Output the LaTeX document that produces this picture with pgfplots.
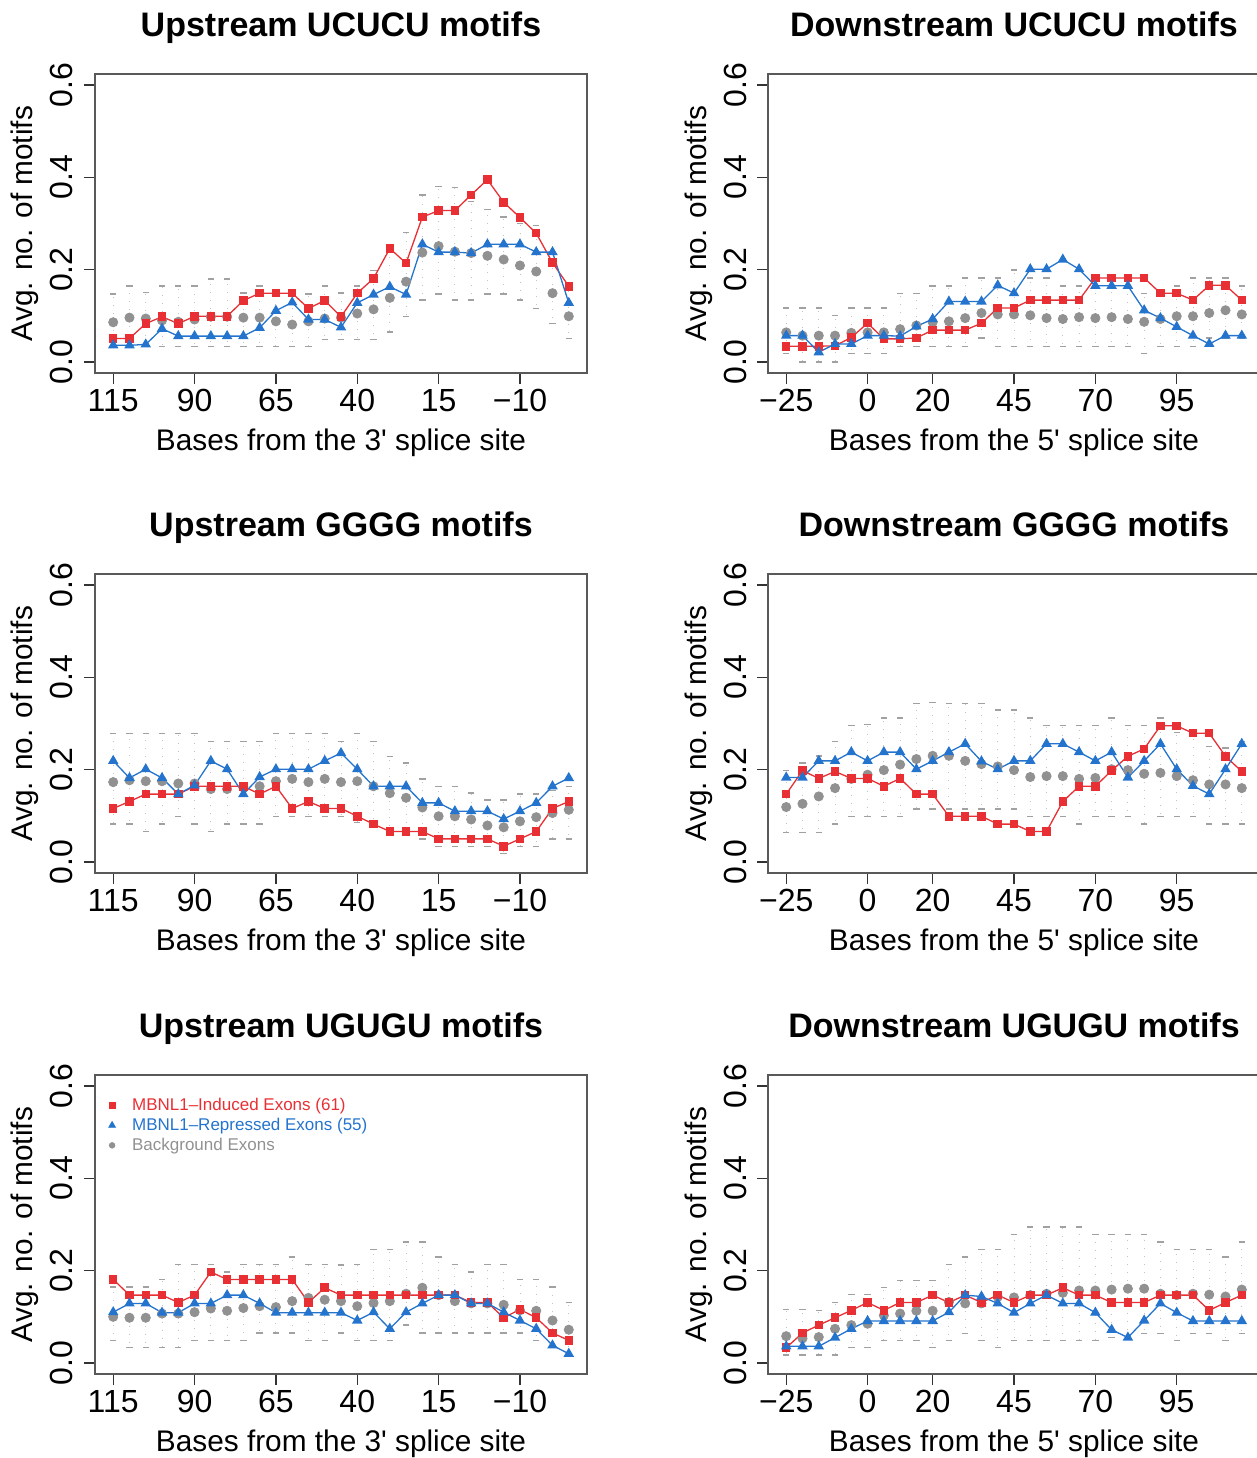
\documentclass[border=0pt]{standalone}
\usepackage{fontspec}
\setmainfont{Liberation Sans}
\usepackage{pgfplots}
\usepackage{pgfplotstable}
\pgfplotsset{compat=1.18}
\definecolor{mred}{RGB}{232,48,52}
\definecolor{mblue}{RGB}{36,116,206}
\definecolor{mgray}{RGB}{145,145,145}

% x ind rep bg lo hi
\pgfplotstableread{
x ind rep bg lo hi
115 0.051 0.036 0.086 0.033 0.147
110 0.051 0.036 0.096 0.033 0.165
105 0.083 0.038 0.094 0.033 0.151
100 0.098 0.072 0.090 0.033 0.165
95 0.083 0.056 0.087 0.033 0.165
90 0.099 0.056 0.092 0.033 0.165
85 0.099 0.056 0.098 0.033 0.180
80 0.099 0.056 0.098 0.033 0.180
75 0.133 0.056 0.096 0.033 0.149
70 0.149 0.074 0.096 0.033 0.165
65 0.149 0.111 0.088 0.033 0.149
60 0.149 0.129 0.081 0.033 0.149
55 0.116 0.092 0.088 0.033 0.147
50 0.133 0.092 0.094 0.049 0.165
45 0.098 0.075 0.096 0.049 0.149
40 0.149 0.128 0.105 0.049 0.165
35 0.181 0.146 0.114 0.049 0.198
30 0.246 0.163 0.139 0.065 0.240
25 0.214 0.146 0.174 0.098 0.280
20 0.314 0.255 0.237 0.134 0.362
15 0.328 0.238 0.251 0.147 0.380
10 0.328 0.238 0.239 0.134 0.378
5 0.362 0.236 0.236 0.134 0.348
0 0.395 0.255 0.230 0.147 0.330
-5 0.346 0.255 0.222 0.147 0.314
-10 0.313 0.255 0.209 0.134 0.300
-15 0.279 0.238 0.196 0.116 0.296
-20 0.215 0.238 0.149 0.083 0.235
-25 0.164 0.128 0.099 0.051 0.165
}\upucucu

\pgfplotstableread{
x ind rep bg lo hi
-25 0.034 0.057 0.064 0.018 0.117
-20 0.034 0.057 0.057 0.000 0.117
-15 0.034 0.021 0.057 0.000 0.117
-10 0.035 0.039 0.057 0.000 0.100
-5 0.053 0.039 0.063 0.018 0.117
0 0.084 0.057 0.064 0.018 0.117
5 0.050 0.057 0.064 0.018 0.117
10 0.050 0.056 0.071 0.034 0.148
15 0.052 0.077 0.079 0.034 0.148
20 0.069 0.093 0.086 0.034 0.165
25 0.069 0.131 0.088 0.034 0.165
30 0.069 0.131 0.095 0.034 0.182
35 0.084 0.131 0.106 0.052 0.182
40 0.117 0.166 0.103 0.034 0.182
45 0.117 0.149 0.103 0.034 0.199
50 0.134 0.201 0.101 0.034 0.182
55 0.134 0.201 0.095 0.034 0.182
60 0.134 0.222 0.093 0.034 0.165
65 0.134 0.201 0.097 0.034 0.165
70 0.182 0.165 0.095 0.034 0.165
75 0.182 0.165 0.097 0.034 0.165
80 0.182 0.165 0.093 0.034 0.165
85 0.182 0.112 0.087 0.018 0.148
90 0.149 0.095 0.093 0.034 0.155
95 0.149 0.076 0.099 0.034 0.165
100 0.134 0.057 0.099 0.034 0.182
105 0.166 0.039 0.106 0.052 0.182
110 0.166 0.057 0.112 0.052 0.182
115 0.134 0.057 0.103 0.052 0.165
}\downucucu

\pgfplotstableread{
x ind rep bg lo hi
115 0.116 0.219 0.173 0.082 0.279
110 0.131 0.182 0.177 0.082 0.279
105 0.147 0.201 0.175 0.066 0.279
100 0.147 0.182 0.175 0.082 0.279
95 0.147 0.147 0.170 0.099 0.279
90 0.164 0.166 0.170 0.082 0.279
85 0.164 0.219 0.158 0.066 0.261
80 0.164 0.201 0.158 0.082 0.261
75 0.164 0.147 0.162 0.082 0.261
70 0.147 0.184 0.164 0.082 0.261
65 0.164 0.201 0.175 0.099 0.279
60 0.116 0.201 0.180 0.099 0.279
55 0.131 0.201 0.173 0.099 0.279
50 0.116 0.219 0.180 0.099 0.279
45 0.116 0.236 0.173 0.099 0.261
40 0.099 0.201 0.175 0.085 0.279
35 0.082 0.164 0.164 0.075 0.261
30 0.066 0.164 0.149 0.070 0.229
25 0.066 0.164 0.139 0.060 0.214
20 0.066 0.128 0.118 0.050 0.180
15 0.050 0.128 0.099 0.034 0.164
10 0.050 0.110 0.099 0.034 0.164
5 0.050 0.110 0.092 0.034 0.149
0 0.050 0.110 0.079 0.034 0.134
-5 0.034 0.093 0.075 0.018 0.134
-10 0.050 0.110 0.088 0.034 0.147
-15 0.066 0.128 0.097 0.034 0.147
-20 0.116 0.164 0.106 0.050 0.155
-25 0.131 0.182 0.113 0.050 0.164
}\upgggg

\pgfplotstableread{
x ind rep bg lo hi
-25 0.147 0.183 0.119 0.064 0.198
-20 0.198 0.183 0.126 0.064 0.214
-15 0.181 0.219 0.142 0.064 0.230
-10 0.196 0.219 0.160 0.082 0.261
-5 0.181 0.238 0.180 0.099 0.296
0 0.181 0.219 0.189 0.099 0.298
5 0.164 0.238 0.199 0.099 0.312
10 0.181 0.238 0.211 0.099 0.312
15 0.147 0.201 0.223 0.115 0.344
20 0.147 0.219 0.230 0.115 0.346
25 0.099 0.238 0.230 0.115 0.344
30 0.099 0.256 0.219 0.115 0.343
35 0.099 0.218 0.212 0.115 0.343
40 0.082 0.201 0.207 0.115 0.329
45 0.082 0.219 0.199 0.115 0.329
50 0.066 0.219 0.184 0.099 0.312
55 0.066 0.256 0.186 0.099 0.296
60 0.131 0.256 0.186 0.099 0.296
65 0.164 0.238 0.180 0.082 0.296
70 0.164 0.219 0.182 0.099 0.296
75 0.198 0.238 0.201 0.099 0.312
80 0.229 0.183 0.199 0.099 0.296
85 0.245 0.219 0.191 0.082 0.296
90 0.295 0.256 0.193 0.099 0.312
95 0.295 0.201 0.186 0.099 0.280
100 0.279 0.165 0.177 0.099 0.272
105 0.279 0.147 0.168 0.082 0.250
110 0.229 0.201 0.168 0.082 0.247
115 0.196 0.256 0.160 0.082 0.261
}\downgggg

\pgfplotstableread{
x ind rep bg lo hi
115 0.181 0.110 0.100 0.049 0.165
110 0.147 0.129 0.098 0.033 0.165
105 0.147 0.129 0.098 0.033 0.165
100 0.147 0.109 0.107 0.033 0.181
95 0.131 0.109 0.107 0.033 0.214
90 0.147 0.129 0.110 0.049 0.214
85 0.197 0.129 0.118 0.049 0.214
80 0.181 0.147 0.113 0.049 0.197
75 0.181 0.147 0.119 0.049 0.214
70 0.181 0.129 0.123 0.065 0.214
65 0.181 0.109 0.121 0.065 0.214
60 0.181 0.109 0.134 0.065 0.230
55 0.131 0.109 0.141 0.049 0.214
50 0.163 0.109 0.137 0.049 0.214
45 0.147 0.109 0.134 0.065 0.212
40 0.147 0.092 0.123 0.049 0.214
35 0.147 0.110 0.130 0.049 0.246
30 0.147 0.074 0.134 0.049 0.246
25 0.147 0.110 0.150 0.082 0.262
20 0.147 0.129 0.163 0.065 0.262
15 0.147 0.147 0.147 0.065 0.230
10 0.147 0.147 0.134 0.065 0.214
5 0.131 0.129 0.129 0.065 0.197
0 0.131 0.129 0.129 0.065 0.214
-5 0.098 0.110 0.126 0.065 0.214
-10 0.116 0.092 0.114 0.065 0.181
-15 0.098 0.074 0.113 0.049 0.181
-20 0.065 0.038 0.092 0.033 0.165
-25 0.049 0.020 0.072 0.020 0.131
}\upugugu

\pgfplotstableread{
x ind rep bg lo hi
-25 0.033 0.036 0.058 0.017 0.116
-20 0.065 0.036 0.053 0.017 0.116
-15 0.082 0.036 0.056 0.017 0.114
-10 0.098 0.055 0.074 0.017 0.131
-5 0.114 0.074 0.082 0.033 0.148
0 0.131 0.091 0.085 0.033 0.148
5 0.114 0.091 0.103 0.049 0.163
10 0.131 0.091 0.107 0.049 0.179
15 0.131 0.091 0.113 0.049 0.179
20 0.147 0.091 0.113 0.033 0.179
25 0.131 0.110 0.132 0.049 0.214
30 0.147 0.147 0.129 0.064 0.230
35 0.131 0.144 0.129 0.049 0.246
40 0.147 0.129 0.143 0.033 0.246
45 0.131 0.109 0.142 0.049 0.279
50 0.147 0.129 0.147 0.049 0.295
55 0.147 0.147 0.150 0.049 0.295
60 0.163 0.129 0.152 0.049 0.295
65 0.147 0.129 0.157 0.049 0.295
70 0.147 0.109 0.157 0.049 0.279
75 0.131 0.072 0.159 0.055 0.279
80 0.131 0.055 0.161 0.055 0.279
85 0.131 0.092 0.161 0.064 0.279
90 0.147 0.129 0.150 0.064 0.262
95 0.147 0.109 0.147 0.049 0.246
100 0.147 0.091 0.150 0.064 0.246
105 0.114 0.091 0.148 0.064 0.246
110 0.131 0.091 0.144 0.049 0.230
115 0.147 0.091 0.159 0.064 0.262
}\downugugu

\pgfplotsset{
 panel/.style={
  scale only axis, width=246pt, height=149.5pt,
  xmin=-30.6, xmax=120.6, ymin=-0.024, ymax=0.624,
  ytick={0,0.2,0.4,0.6}, yticklabels={0.0,0.2,0.4,0.6},
  tick align=outside, major tick length=5.5pt,
  xtick pos=left, ytick pos=left,
  axis line style={black!65, line width=0.75pt},
  major tick style={black!80, line width=0.6pt},
  tick label style={font=\fontsize{16}{18}\selectfont},
  xticklabel style={anchor=base, yshift=-13.6pt},
  yticklabel style={xshift=-5.5pt, rotate=90, anchor=base},
  every axis x label/.style={at={(axis description cs:0.5,-0.2575)}, anchor=base, font=\fontsize{14.9}{17}\selectfont},
  every axis y label/.style={at={(axis description cs:-0.126,0.5)}, anchor=base, rotate=90, font=\fontsize{14.9}{17}\selectfont},
  every axis title/.style={at={(axis description cs:0.5,1.124)}, anchor=base, font=\bfseries\fontsize{17}{19}\selectfont},
  ylabel={Avg. no. of motifs},
 },
 up/.style={panel, x dir=reverse, xtick={115,90,65,40,15,-10}, xticklabels={115,90,65,40,15,−10}, xlabel={Bases from the 3\textquotesingle{} splice site}},
 down/.style={panel, xtick={-25,0,20,45,70,95}, xticklabels={−25,0,20,45,70,95}, xlabel={Bases from the 5\textquotesingle{} splice site}},
 bgplot/.style={only marks, mark=*, mark size=2.3pt, color=mgray, mark options={draw=none, fill=mgray},
   error bars/y dir=both, error bars/y explicit,
   error bars/error bar style={mgray!55, line width=0.45pt, dash pattern=on 0.5pt off 3.5pt},
   error bars/error mark options={rotate=90, mgray!85, solid, line width=0.7pt, mark size=1.6pt}},
 indplot/.style={color=mred, line width=0.65pt, mark=square*, mark size=1.8pt, mark options={solid, fill=mred, draw=none}},
 repplot/.style={color=mblue, line width=0.65pt, mark=triangle*, mark size=2.4pt, mark options={solid, fill=mblue, draw=none}},
}

\newcommand{\threeplots}[1]{%
  \addplot[forget plot, bgplot] table[x=x, y=bg, y error plus expr=\thisrow{hi}-\thisrow{bg}, y error minus expr=\thisrow{bg}-\thisrow{lo}] {#1};
  \addplot[forget plot, indplot] table[x=x, y=ind] {#1};
  \addplot[forget plot, repplot] table[x=x, y=rep] {#1};
}

\begin{document}
\begin{tikzpicture}
\begin{axis}[up, at={(47.5pt,-37pt)}, anchor=north west, title={Upstream UCUCU motifs}]
\threeplots{\upucucu}
\end{axis}
\begin{axis}[down, at={(384pt,-37pt)}, anchor=north west, title={Downstream UCUCU motifs}]
\threeplots{\downucucu}
\end{axis}
\begin{axis}[up, at={(47.5pt,-287pt)}, anchor=north west, title={Upstream GGGG motifs}]
\threeplots{\upgggg}
\end{axis}
\begin{axis}[down, at={(384pt,-287pt)}, anchor=north west, title={Downstream GGGG motifs}]
\threeplots{\downgggg}
\end{axis}
\begin{axis}[up, at={(47.5pt,-537.5pt)}, anchor=north west, title={Upstream UGUGU motifs},
  legend cell align=left,
  legend image code/.code={\path[draw=none,fill=none] (-3pt,0pt) (10pt,0pt); \draw[#1] plot coordinates {(0pt,0pt)};},
  legend style={draw=none, fill=none, at={(axis description cs:0.0096,0.94)}, anchor=north west,
    font=\fontsize{8.5}{10}\selectfont, row sep=2pt, column sep=0pt,
    nodes={inner sep=0pt, text height=6.5pt, text depth=1.5pt}}]
\threeplots{\upugugu}
\addlegendimage{only marks, mark=square*, mark size=1.5pt, color=mred, mark options={draw=none, fill=mred}}
\addlegendentry{\textcolor{mred}{MBNL1–Induced Exons (61)}}
\addlegendimage{only marks, mark=triangle*, mark size=1.9pt, color=mblue, mark options={draw=none, fill=mblue}}
\addlegendentry{\textcolor{mblue}{MBNL1–Repressed Exons (55)}}
\addlegendimage{only marks, mark=*, mark size=1.4pt, color=mgray, mark options={draw=none, fill=mgray}}
\addlegendentry{\textcolor{mgray}{Background Exons}}
\end{axis}
\begin{axis}[down, at={(384pt,-537.5pt)}, anchor=north west, title={Downstream UGUGU motifs}]
\threeplots{\downugugu}
\end{axis}
\pgfresetboundingbox
\path (0pt,0pt) rectangle (628.5pt,-729pt);
\end{tikzpicture}
\end{document}
